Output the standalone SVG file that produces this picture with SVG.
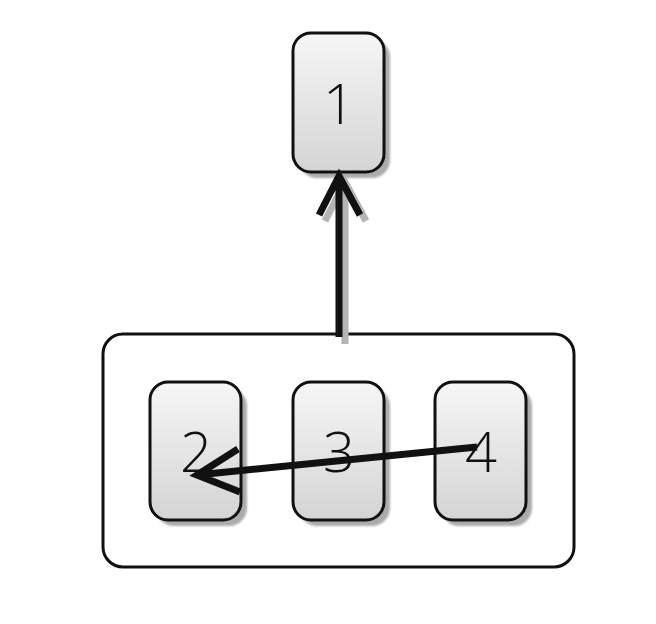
<svg xmlns="http://www.w3.org/2000/svg" width="656" height="624" viewBox="0 0 656 624">
  <defs>
    <linearGradient id="nodeFill" x1="0" y1="0" x2="0" y2="1">
      <stop offset="0" stop-color="#f6f6f6"/>
      <stop offset="1" stop-color="#d4d4d4"/>
    </linearGradient>
    <filter id="soft" x="-20%" y="-20%" width="140%" height="140%">
      <feGaussianBlur stdDeviation="1.2"/>
    </filter>
  </defs>
  <style>
    .shadow { fill: #ababab; filter: url(#soft); }
    .box { fill: url(#nodeFill); stroke: #111; stroke-width: 3; }
    .label { font-family: "Open Sans", "Liberation Sans", sans-serif; font-weight: 300; font-size: 56px; fill: #111; text-anchor: middle; }
    .edge { fill: none; stroke: #111; stroke-width: 7; stroke-linecap: butt; stroke-linejoin: miter; }
    .edge-shadow { fill: none; stroke: #b4b4b4; stroke-width: 7; }
    .group { fill: #fff; stroke: #111; stroke-width: 3; }
  </style>

  <rect width="656" height="624" fill="#fff"/>

  <!-- container for nodes 2, 3, 4 -->
  <g id="container">
    <rect class="group" x="103" y="334" width="471" height="233" rx="20"/>
  </g>

  <g id="node1">
    <rect class="shadow" x="299" y="39" width="91" height="139" rx="18"/>
    <rect class="box" x="293" y="33" width="91" height="139" rx="18"/>
    <text class="label" x="339" y="124">1</text>
  </g>

  <g id="node2">
    <rect class="shadow" x="156" y="388" width="91" height="138" rx="18"/>
    <rect class="box" x="150" y="382" width="91" height="138" rx="18"/>
    <text class="label" x="196" y="472">2</text>
  </g>

  <g id="node3">
    <rect class="shadow" x="299" y="388" width="91" height="138" rx="18"/>
    <rect class="box" x="293" y="382" width="91" height="138" rx="18"/>
    <text class="label" x="339" y="472">3</text>
  </g>

  <g id="node4">
    <rect class="shadow" x="441" y="388" width="91" height="138" rx="18"/>
    <rect class="box" x="435" y="382" width="91" height="138" rx="18"/>
    <text class="label" x="481" y="472">4</text>
  </g>

  <g id="connectors">
    <!-- container to node 1 -->
    <path class="edge-shadow" d="M345 344 V182 M325 221 L345 182 L366 221"/>
    <path class="edge" d="M339 337 V176 M319 215 L339 176 L360 215"/>
    <!-- node 4 to node 2 -->
    <path class="edge" d="M477 447 L197 475 M238 449 L197 475 L240 492"/>
  </g>
</svg>
